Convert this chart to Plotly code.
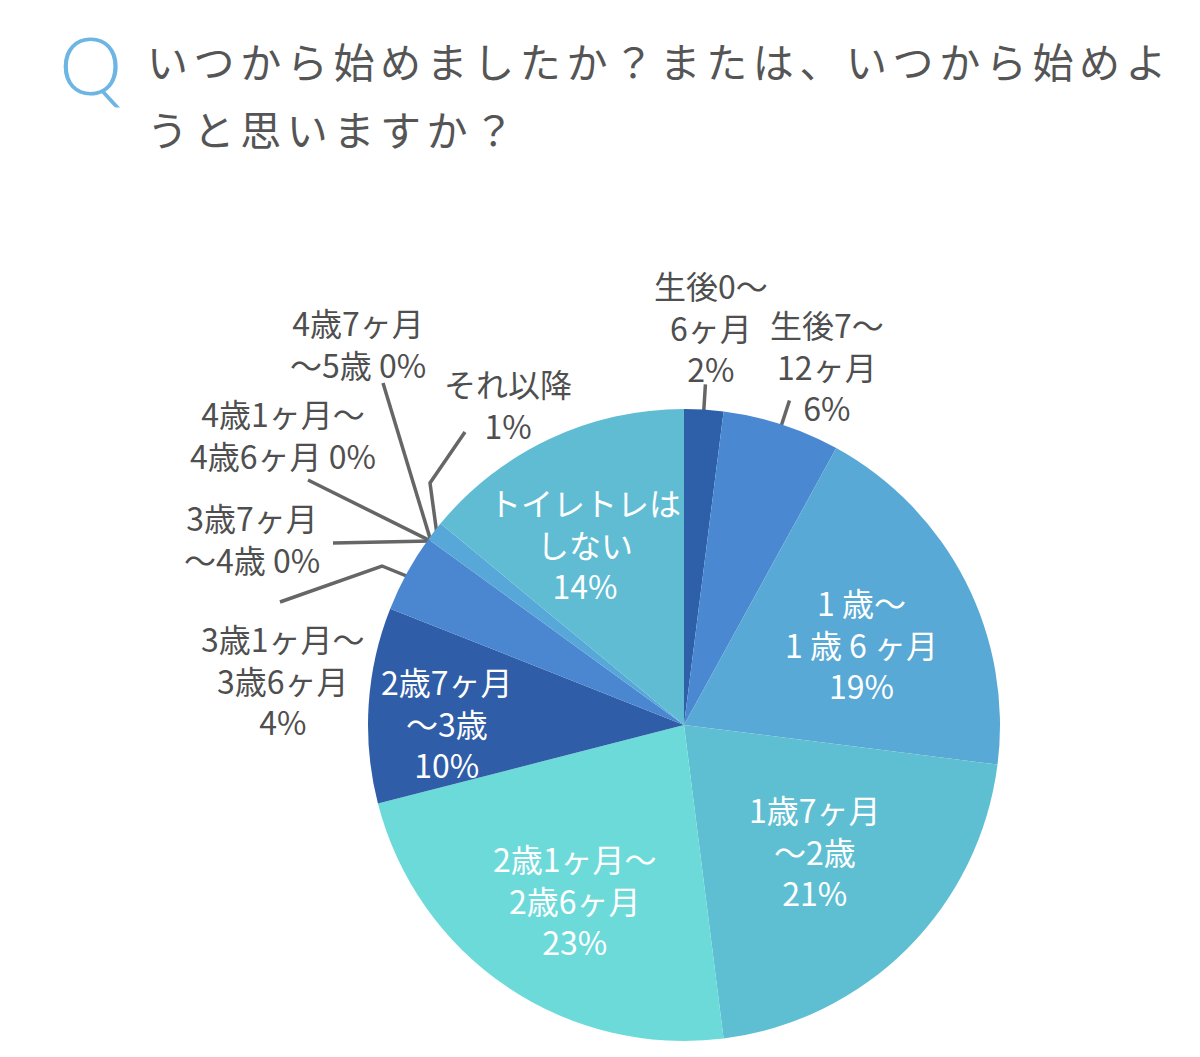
import numpy as np
import plotly.graph_objects as go

# slices, clockwise from 12 o'clock
categories = ["生後0〜6ヶ月", "生後7〜12ヶ月", "1歳〜1歳6ヶ月", "1歳7ヶ月〜2歳",
              "2歳1ヶ月〜2歳6ヶ月", "2歳7ヶ月〜3歳", "3歳1ヶ月〜3歳6ヶ月", "3歳7ヶ月〜4歳",
              "4歳1ヶ月〜4歳6ヶ月", "4歳7ヶ月〜5歳", "それ以降", "トイレトレはしない"]
percents = [2, 6, 19, 21, 23, 10, 4, 0, 0, 0, 1, 14]
# how each label is printed on the chart (percent is appended)
label_names = ["生後0〜<br>6ヶ月<br>", "生後7〜<br>12ヶ月<br>", "1 歳〜<br>1 歳 6 ヶ月<br>",
               "1歳7ヶ月<br>〜2歳<br>", "2歳1ヶ月〜<br>2歳6ヶ月<br>", "2歳7ヶ月<br>〜3歳<br>",
               "3歳1ヶ月〜<br>3歳6ヶ月<br>", "3歳7ヶ月<br>〜4歳 ", "4歳1ヶ月〜<br>4歳6ヶ月 ",
               "4歳7ヶ月<br>〜5歳 ", "それ以降<br>", "トイレトレは<br>しない<br>"]
colors = ["#2e5fa9", "#4a88d1", "#58a9d5", "#5fbfd2", "#6ddada", "#2f5da7",
          "#4a87d0", "#4a87d0", "#4a87d0", "#4a87d0", "#57a7d8", "#5fbcd3"]

title_1 = "いつから始めましたか？または、いつから始めよ"
title_2 = "うと思いますか？"

W, H = 1200, 1057
PAD = 8  # page body margin
FW, FH = W - 2 * PAD, H - 2 * PAD
CX, CY, R = 684, 725, 316
GRAY = "#4f4f4f"
FONT = "Noto Sans CJK JP"

# inside labels: radius fraction, angle nudge (deg)
inside = {2: (0.62, 2.3), 3: (0.573, -1.3), 4: (0.652, -2.3), 5: (0.75, -2.9), 11: (0.655, -3.3)}
# outside labels: label centre, elbow points of the leader, radius fraction where it meets the pie
outside = {
    0: ((711, 326), None, 0.92),
    1: ((827, 365), None, 0.91),
    6: ((283, 679), [(280, 602), (382, 566)], 0.91),
    7: ((252, 538), [(333, 543)], 0.99),
    8: ((283, 434), [(308, 480)], 0.99),
    9: ((358, 343), [(383, 383)], 0.99),
    10: ((508, 404), [(465, 432), (430, 483)], 0.99),
}

vals = np.array(percents, dtype=float)
ends = np.cumsum(vals)
mids = (ends - vals / 2) / vals.sum() * 360


def edge(theta, frac):
    t = np.radians(theta)
    return CX + frac * R * np.sin(t), CY - frac * R * np.cos(t)


fig = go.Figure()
cxf, cyf = CX - PAD, FH - (CY - PAD)
fig.add_trace(go.Pie(
    labels=categories, values=percents, sort=False, direction="clockwise", rotation=0,
    marker=dict(colors=colors, line=dict(width=0)), textinfo="none", hoverinfo="label+percent",
    showlegend=False,
    domain=dict(x=[(cxf - R) / FW, (cxf + R) / FW], y=[(cyf - R) / FH, (cyf + R) / FH]),
))

annotations = []
for i, name in enumerate(label_names):
    text = f"{name}{percents[i]}%"
    if i in inside:
        frac, nudge = inside[i]
        x, y = edge(mids[i] + nudge, frac)
        annotations.append(dict(x=x, y=y, text=text, showarrow=False, xref="x", yref="y",
                                font=dict(size=32, color="white", family=FONT)))
    else:
        (lx, ly), elbows, frac = outside[i]
        if elbows is None:
            pts = [edge(mids[i], 1.08), edge(mids[i], frac)]
        else:
            pts = elbows + [edge(mids[i], frac)]
        fig.add_trace(go.Scatter(x=[p[0] for p in pts], y=[p[1] for p in pts], mode="lines",
                                 line=dict(color="#666666", width=3.5), hoverinfo="skip",
                                 showlegend=False))
        annotations.append(dict(x=lx, y=ly, text=text, showarrow=False, xref="x", yref="y",
                                font=dict(size=32, color=GRAY, family=FONT)))

# title
annotations.append(dict(x=90, y=64, text="Q", showarrow=False, xref="x", yref="y",
                        font=dict(size=80, color="#6db5e3", family="Lato", weight=300)))
for txt, y in [(title_1, 60), (title_2, 128)]:
    annotations.append(dict(x=145, y=y, text=f'<span style="letter-spacing:5.6px">{txt}</span>',
                            showarrow=False, xref="x", yref="y", xanchor="left",
                            font=dict(size=41, color="#555555", family=FONT)))

fig.update_layout(
    width=FW, height=FH, margin=dict(l=0, r=0, t=0, b=0),
    paper_bgcolor="white", plot_bgcolor="rgba(0,0,0,0)",
    xaxis=dict(range=[PAD, PAD + FW], visible=False, fixedrange=True, domain=[0, 1]),
    yaxis=dict(range=[PAD + FH, PAD], visible=False, fixedrange=True, domain=[0, 1]),
    annotations=annotations,
)

fig.write_html("out.html")
